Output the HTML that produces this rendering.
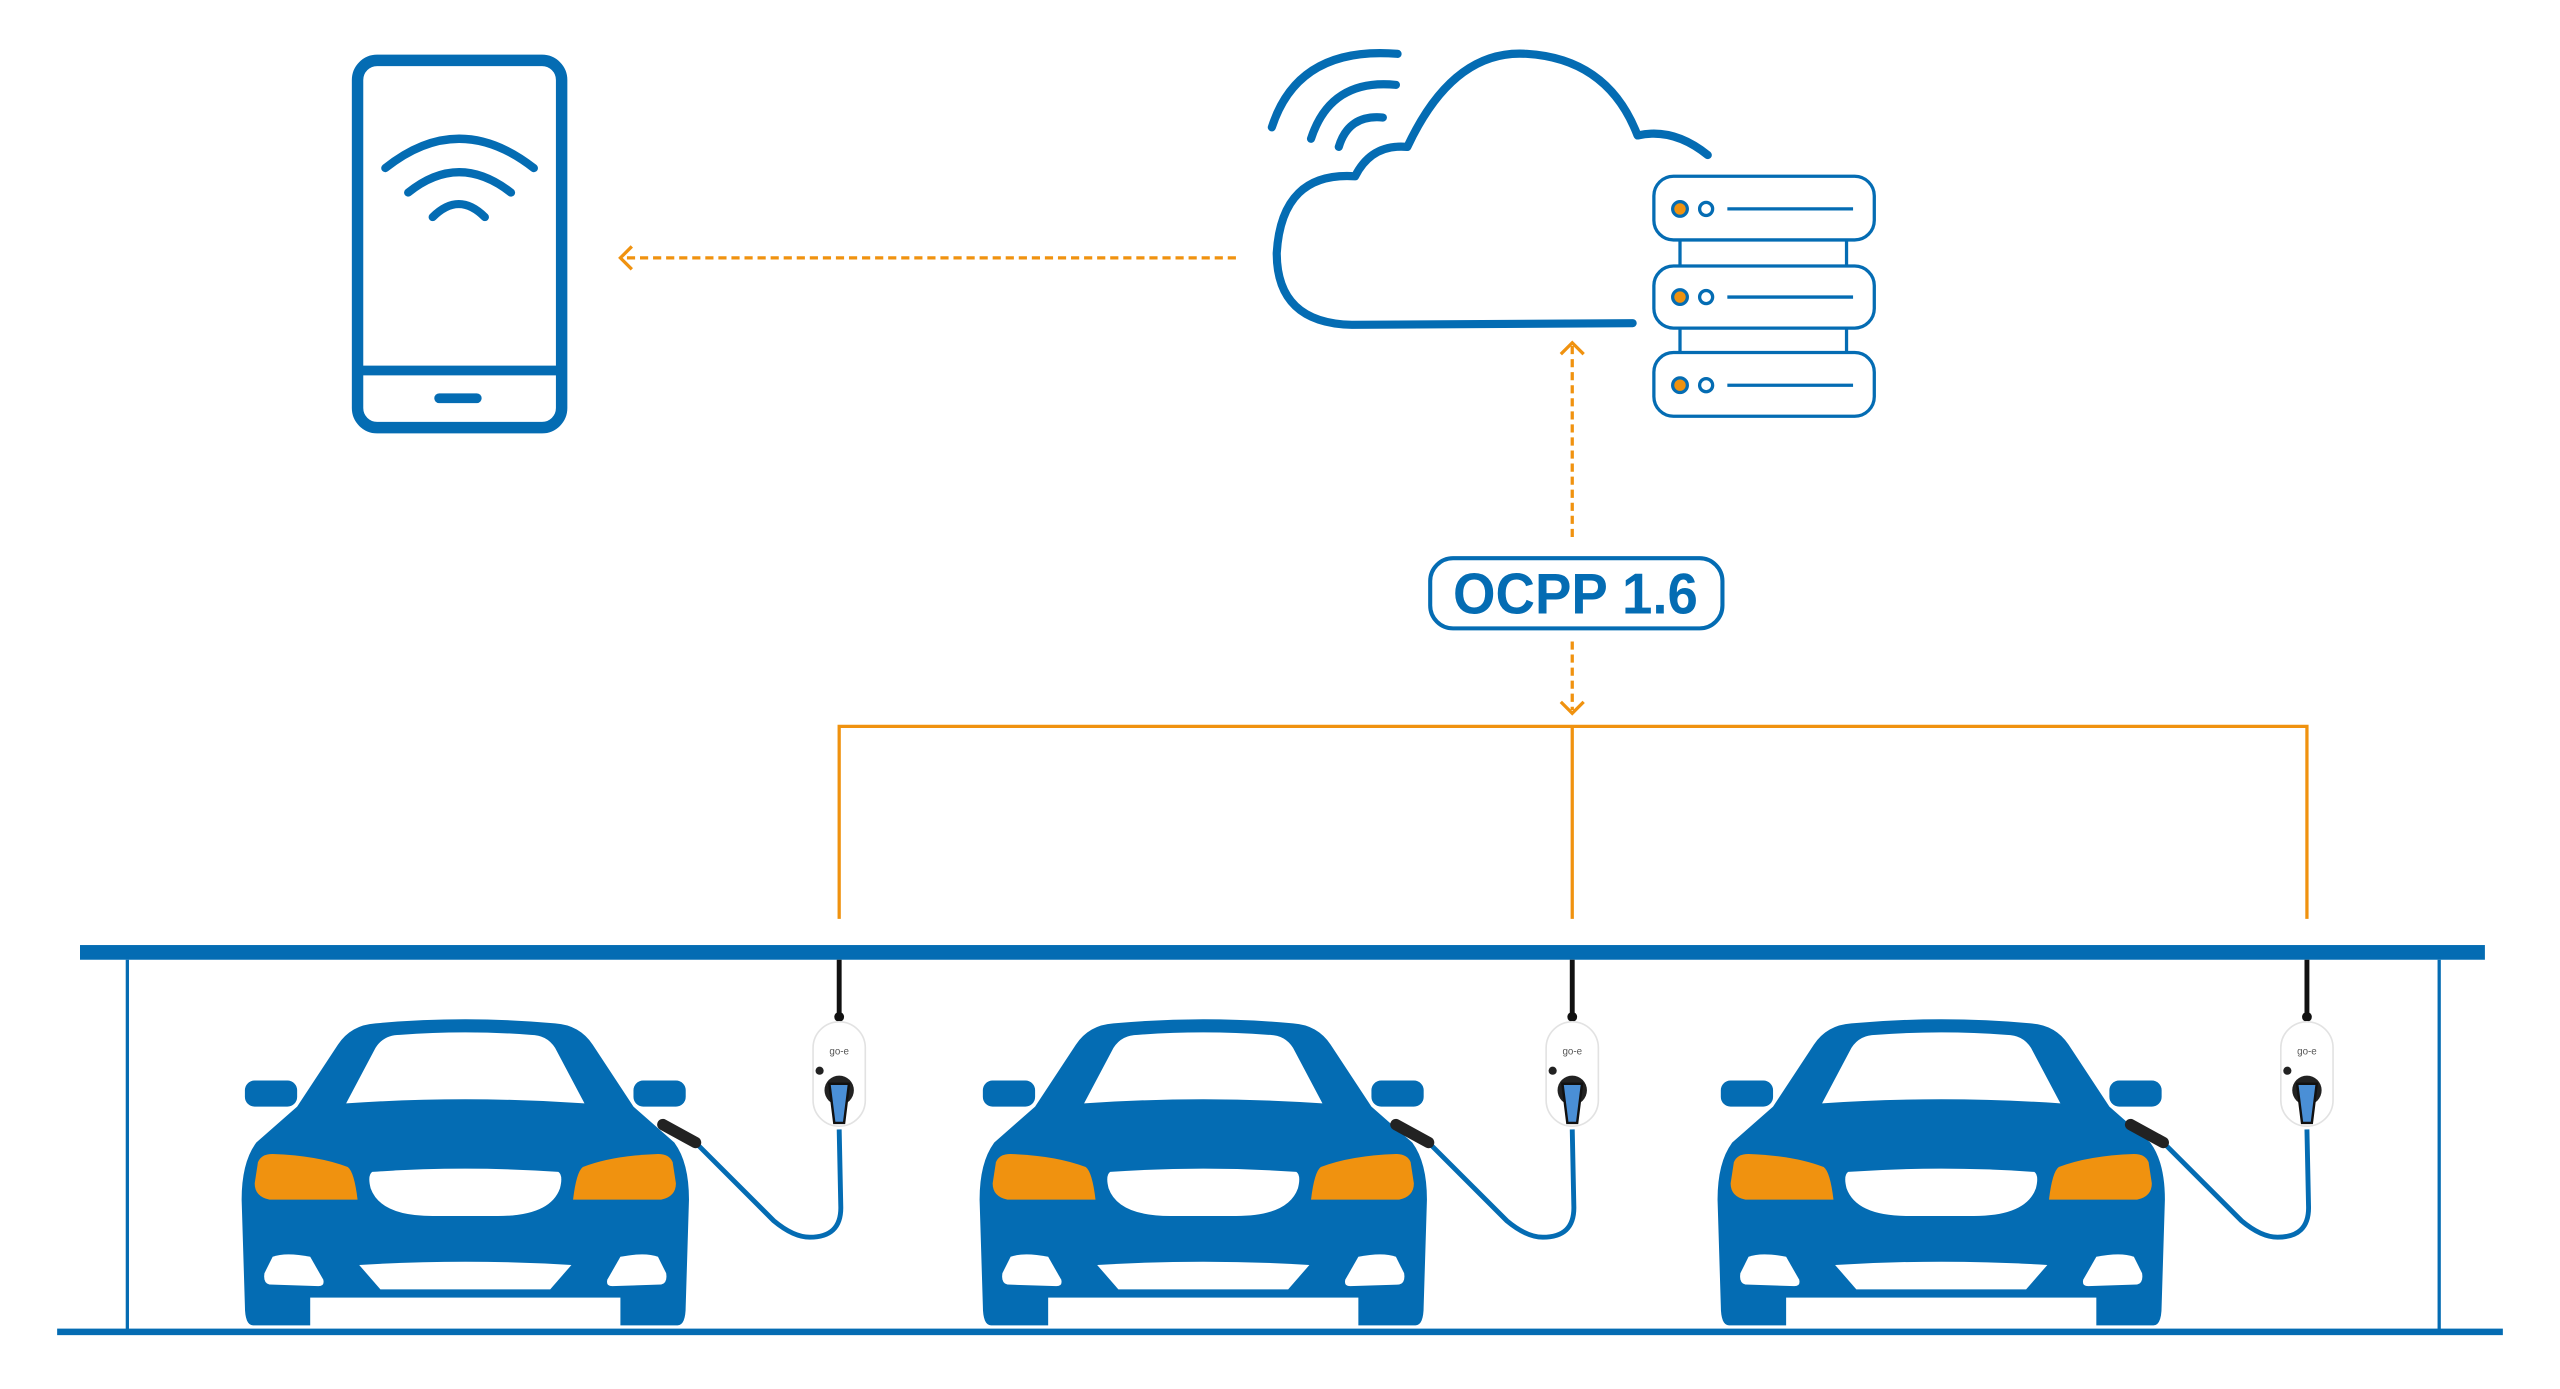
<!DOCTYPE html>
<html><head><meta charset="utf-8"><style>
html,body{margin:0;padding:0;background:#fff;}
svg{display:block;}
</style></head><body>
<svg width="2560" height="1389" viewBox="0 0 1568 851" preserveAspectRatio="none" xmlns="http://www.w3.org/2000/svg">
<defs>
<g id="car">
<path fill="#046CB3" d="M-130,812 Q-135,812 -135,800 L-137,735 Q-137,712 -128,700 L-103,678 L-78,640 Q-70,628 -55,627 Q0,622 55,627 Q70,628 78,640 L103,678 L128,700 Q137,712 137,735 L135,800 Q135,812 130,812 Z"/>
<rect x="-135" y="662" width="32" height="16" rx="6" fill="#046CB3"/>
<rect x="103" y="662" width="32" height="16" rx="6" fill="#046CB3"/>
<path fill="#fff" d="M-73,676 L-55,642 Q-50,634 -40,634 Q0,631 40,634 Q50,634 55,642 L73,676 Q0,671 -73,676 Z"/>
<path fill="#F0920F" d="M-127,712 Q-125,707 -118,707 Q-90,708 -72,715 Q-68,718 -66,735 L-120,735 Q-129,733 -129,725 Z"/>
<path fill="#F0920F" d="M127,712 Q125,707 118,707 Q90,708 72,715 Q68,718 66,735 L120,735 Q129,733 129,725 Z"/>
<path fill="#fff" d="M-57,718 Q0,714 57,718 Q60,720 58,728 Q52,745 20,745 L-20,745 Q-52,745 -58,728 Q-60,720 -57,718 Z"/>
<path fill="#fff" d="M-118,770 Q-110,767 -95,770 L-87,784 Q-86,788 -90,788 L-120,787 Q-124,786 -123,780 Z"/>
<path fill="#fff" d="M118,770 Q110,767 95,770 L87,784 Q86,788 90,788 L120,787 Q124,786 123,780 Z"/>
<path fill="#fff" d="M-65,775 Q0,771 65,775 L52,790 L-52,790 Z"/>
<rect x="-95" y="795" width="190" height="18" fill="#fff"/>
</g>
<g id="chg">
<rect x="-1.5" y="588" width="3" height="33" fill="#111"/>
<circle cx="0" cy="623" r="3" fill="#111"/>
<rect x="-16" y="626" width="32" height="64" rx="16" fill="#fff" stroke="#e2e2e2" stroke-width="1"/>
<text x="0" y="646" font-family="Liberation Sans, sans-serif" font-size="6" fill="#555" text-anchor="middle">go-e</text>
<circle cx="-12" cy="656" r="2.5" fill="#222"/>
<circle cx="0" cy="668" r="9" fill="#222"/>
<path d="M-6,664 L6,664 L3,688 L-3,688 Z" fill="#4A8FD6" stroke="#111" stroke-width="1.5"/>
<path d="M0,692 L1,740 Q1,758 -18,758 Q-28,758 -40,748 L-86,702" fill="none" stroke="#046CB3" stroke-width="3"/>
<path d="M-108,689 L-88,700" stroke="#222" stroke-width="7" stroke-linecap="round"/>
</g>
</defs>

<!-- phone -->
<rect x="219" y="37" width="125" height="225" rx="12" fill="none" stroke="#046CB3" stroke-width="7"/>
<line x1="222" y1="227" x2="341" y2="227" stroke="#046CB3" stroke-width="6"/>
<line x1="269" y1="244" x2="292" y2="244" stroke="#046CB3" stroke-width="6" stroke-linecap="round"/>
<g fill="none" stroke="#046CB3" stroke-width="5" stroke-linecap="round">
<path d="M236,103 Q281,67 327,103"/>
<path d="M250,118 Q281,93 313,118"/>
<path d="M265,133 Q281,117 297,133"/>
</g>

<!-- dashed to phone -->
<line x1="757" y1="158" x2="382" y2="158" stroke="#F0920F" stroke-width="2" stroke-dasharray="5,3"/>
<path d="M387,151 L380,158 L387,165" fill="none" stroke="#F0920F" stroke-width="2"/>

<!-- cloud -->
<g fill="none" stroke="#046CB3" stroke-width="5" stroke-linecap="round" stroke-linejoin="round">
<path d="M1000,198 L828,199 Q782,198 782,155 Q785,105 830,108 Q840,88 862,90 Q890,30 935,33 Q985,36 1003,83 Q1025,78 1046,95"/>
<path d="M779,78 Q795,28 856,33"/>
<path d="M803,85 Q815,48 855,52"/>
<path d="M820,90 Q826,70 847,72"/>
</g>

<!-- servers -->
<g fill="none" stroke="#046CB3" stroke-width="2">
<line x1="1029" y1="147" x2="1029" y2="163"/><line x1="1131" y1="147" x2="1131" y2="163"/>
<line x1="1029" y1="201" x2="1029" y2="216"/><line x1="1131" y1="201" x2="1131" y2="216"/>
<rect x="1013" y="108" width="135" height="39" rx="12"/>
<rect x="1013" y="163" width="135" height="38" rx="12"/>
<rect x="1013" y="216" width="135" height="39" rx="12"/>
<line x1="1058" y1="128" x2="1135" y2="128"/>
<line x1="1058" y1="182" x2="1135" y2="182"/>
<line x1="1058" y1="236" x2="1135" y2="236"/>
<circle cx="1045" cy="128" r="4"/><circle cx="1045" cy="182" r="4"/><circle cx="1045" cy="236" r="4"/>
</g>
<g fill="#F0920F" stroke="#046CB3" stroke-width="2">
<circle cx="1029" cy="128" r="4.5"/><circle cx="1029" cy="182" r="4.5"/><circle cx="1029" cy="236" r="4.5"/>
</g>

<!-- OCPP -->
<line x1="963" y1="212" x2="963" y2="332" stroke="#F0920F" stroke-width="2" stroke-dasharray="5,3"/>
<path d="M956,217 L963,210 L970,217" fill="none" stroke="#F0920F" stroke-width="2"/>
<rect x="876" y="342" width="179" height="43" rx="14" fill="#fff" stroke="#046CB3" stroke-width="2.5"/>
<text x="890" y="376" font-family="Liberation Sans, sans-serif" font-weight="bold" font-size="35" fill="#046CB3" textLength="150" lengthAdjust="spacingAndGlyphs">OCPP 1.6</text>
<line x1="963" y1="393" x2="963" y2="435" stroke="#F0920F" stroke-width="2" stroke-dasharray="5,3"/>
<path d="M956,430 L963,437 L970,430" fill="none" stroke="#F0920F" stroke-width="2"/>

<!-- orange network -->
<g fill="none" stroke="#F0920F" stroke-width="2">
<path d="M514,563 L514,445 L1413,445 L1413,563"/>
<line x1="963" y1="445" x2="963" y2="563"/>
</g>

<!-- garage -->
<rect x="49" y="579" width="1473" height="9" fill="#046CB3"/>
<rect x="77" y="588" width="2" height="228" fill="#046CB3"/>
<rect x="1493" y="588" width="2" height="228" fill="#046CB3"/>
<rect x="35" y="814" width="1498" height="4" fill="#046CB3"/>

<use href="#car" x="285"/>
<use href="#car" x="737"/>
<use href="#car" x="1189"/>
<use href="#chg" x="514"/>
<use href="#chg" x="963"/>
<use href="#chg" x="1413"/>
</svg>
</body></html>
